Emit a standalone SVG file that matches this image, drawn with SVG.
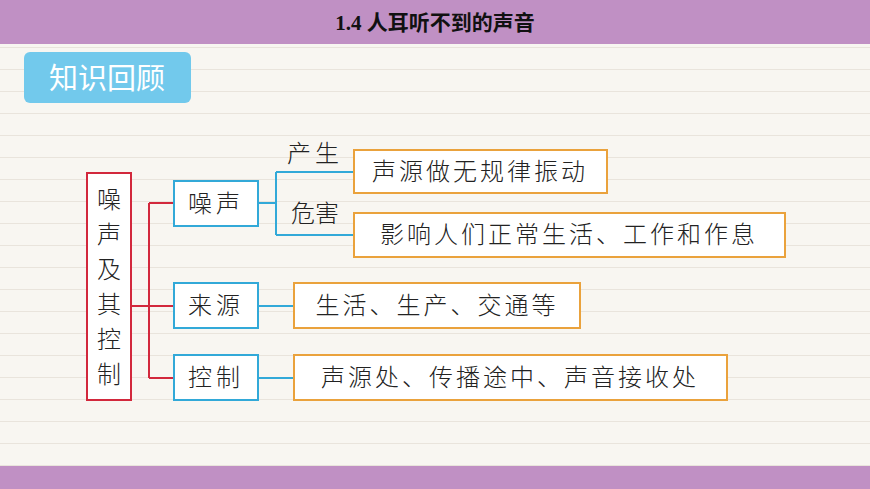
<svg xmlns="http://www.w3.org/2000/svg" width="870" height="489" viewBox="0 0 870 489">
<defs>
<pattern id="lines" width="870" height="22" patternUnits="userSpaceOnUse" y="4">
<line x1="0" y1="21.5" x2="870" y2="21.5" stroke="#e9e4dc" stroke-width="1"/>
</pattern>
</defs>
<style>
.t{font-family:"Noto Sans CJK SC",sans-serif;font-size:24px;font-weight:300;fill:#222}
.red{fill:#fff;stroke:#d2283c;stroke-width:2}
.blue{fill:#fff;stroke:#32a9d8;stroke-width:2}
.org{fill:#fff;stroke:#eaa23c;stroke-width:2}
.lr{fill:none;stroke:#d2283c;stroke-width:2}
.lb{fill:none;stroke:#32a9d8;stroke-width:2}
</style>
<rect width="870" height="489" fill="#f8f6f1"/>
<rect width="870" height="489" fill="url(#lines)"/>
<rect x="0" y="0" width="870" height="44" fill="#c090c4"/>
<text x="435" y="30" text-anchor="middle" font-family="Liberation Serif,Noto Sans CJK SC,serif" font-size="21" font-weight="bold" fill="#111">1.4 人耳听不到的声音</text>
<rect x="0" y="466" width="870" height="23" fill="#c090c4"/>
<g id="title-tag"><rect x="24" y="52" width="167" height="51" rx="6" fill="#72c9ec"/>
<text x="107" y="89" text-anchor="middle" font-family="Noto Sans CJK SC,sans-serif" font-size="29" fill="#fff">知识回顾</text></g>
<g id="connectors">
<path class="lr" d="M131 306H149M149 203V378M149 203H174M149 306H174M149 378H174"/>
<path class="lb" d="M258 203H276M276 172V235M276 172H354M276 235H354M258 306H294M258 378H294"/>
</g>
<g id="root"><rect class="red" x="87" y="173" width="44" height="227"/>
<text class="t" x="109" y="208" text-anchor="middle">噪</text>
<text class="t" x="109" y="243" text-anchor="middle">声</text>
<text class="t" x="109" y="278" text-anchor="middle">及</text>
<text class="t" x="109" y="313" text-anchor="middle">其</text>
<text class="t" x="109" y="348" text-anchor="middle">控</text>
<text class="t" x="109" y="383" text-anchor="middle">制</text></g>
<g id="n-noise"><rect class="blue" x="174" y="181" width="84" height="45"/><text class="t" x="216" y="212" text-anchor="middle" letter-spacing="4">噪声</text></g>
<g id="n-source"><rect class="blue" x="174" y="283" width="84" height="45"/><text class="t" x="216" y="314" text-anchor="middle" letter-spacing="4">来源</text></g>
<g id="n-control"><rect class="blue" x="174" y="355" width="84" height="45"/><text class="t" x="216" y="386" text-anchor="middle" letter-spacing="4">控制</text></g>
<g id="l-produce"><text class="t" x="315" y="162" text-anchor="middle" letter-spacing="4">产生</text></g>
<g id="l-harm"><text class="t" x="315" y="222" text-anchor="middle">危害</text></g>
<g id="o1"><rect class="org" x="354" y="150" width="253" height="43"/><text class="t" x="480" y="180" text-anchor="middle" letter-spacing="3">声源做无规律振动</text></g>
<g id="o2"><rect class="org" x="354" y="213" width="431" height="44"/><text class="t" x="569" y="243" text-anchor="middle" letter-spacing="3">影响人们正常生活、工作和作息</text></g>
<g id="o3"><rect class="org" x="294" y="283" width="286" height="45"/><text class="t" x="437" y="314" text-anchor="middle" letter-spacing="3">生活、生产、交通等</text></g>
<g id="o4"><rect class="org" x="294" y="355" width="433" height="45"/><text class="t" x="510" y="386" text-anchor="middle" letter-spacing="3">声源处、传播途中、声音接收处</text></g>
</svg>
